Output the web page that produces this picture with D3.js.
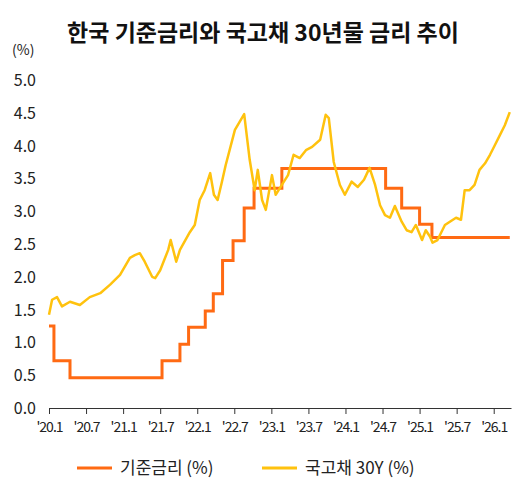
<!DOCTYPE html>
<html><head><meta charset="utf-8">
<script src="https://cdn.jsdelivr.net/npm/d3@7"></script>
<style>body{margin:0;background:#fff}</style></head>
<body><svg id="c" width="517" height="493"></svg>
<script>
// months since 2020.1
const tickMonths = [0, 6, 12, 18, 24, 30, 36, 42, 48, 54, 60, 66, 72];
const tickLabels = ["'20.1","'20.7","'21.1","'21.7","'22.1","'22.7","'23.1","'23.7","'24.1","'24.7","'25.1","'25.7","'26.1"];
const yTicks = [0, 0.5, 1, 1.5, 2, 2.5, 3, 3.5, 4, 4.5, 5];

// base rate: step start month & value
const baseMonths = [0, 0.8, 3.4, 18.3, 21.2, 22.6, 25.3, 26.6, 28.1, 29.8, 31.6, 33.2, 37.7, 54.5, 57.1, 60.0, 62.0, 74.6];
const baseValues = [1.25, 0.72, 0.46, 0.72, 0.97, 1.23, 1.48, 1.74, 2.25, 2.55, 3.05, 3.35, 3.65, 3.35, 3.05, 2.8, 2.6, 2.6];

// 30Y KTB
const ktbMonths = [0,0.5,1.3,2.1,3.4,5.0,6.6,8.3,9.9,11.5,13.1,13.9,14.7,15.5,16.7,17.2,18.0,19.3,19.7,20.6,21.2,22.8,23.6,24.4,25.2,26.1,26.7,27.3,28.0,28.6,30.1,31.6,32.5,33.3,33.8,34.5,35.1,36.1,36.7,37.7,38.7,39.6,40.6,41.6,42.6,43.9,44.8,45.3,46.1,47.1,47.9,49.0,50.0,51.0,51.9,52.8,53.6,54.4,55.2,56.0,57.1,57.9,58.7,59.4,60.4,61.0,61.7,62.1,62.9,64.1,64.9,65.9,66.7,67.3,68.1,68.9,69.7,70.6,71.4,72.2,73.0,73.8,74.6];
const ktbValues = [1.42,1.65,1.69,1.55,1.62,1.57,1.69,1.75,1.88,2.03,2.29,2.33,2.36,2.23,2.0,1.98,2.10,2.41,2.56,2.23,2.41,2.68,2.79,3.17,3.32,3.58,3.25,3.17,3.45,3.70,4.24,4.48,3.78,3.32,3.63,3.17,3.02,3.55,3.25,3.40,3.55,3.86,3.81,3.93,3.98,4.09,4.47,4.42,3.75,3.40,3.25,3.45,3.37,3.48,3.66,3.40,3.09,2.94,2.90,3.08,2.84,2.71,2.68,2.79,2.56,2.71,2.61,2.52,2.56,2.79,2.84,2.90,2.87,3.32,3.32,3.40,3.63,3.73,3.86,4.01,4.16,4.31,4.51];

const ORANGE = '#ff6a13', YELLOW = '#ffc20e', FONT = "'Noto Sans CJK KR', sans-serif";
const svg = d3.select('#c');
const x = d3.scaleLinear().domain([0, 74.8]).range([49, 511]);
const y = d3.scaleLinear().domain([0, 5]).range([408, 80]);

svg.append('text').attr('x', 263).attr('y', 41).attr('text-anchor', 'middle')
  .style('font-family', FONT).style('font-size', '23px').style('font-weight', '700').style('fill', '#111')
  .text('한국 기준금리와 국고채 30년물 금리 추이');
svg.append('text').attr('x', 12).attr('y', 55)
  .style('font-family', FONT).style('font-size', '14px').style('fill', '#222').text('(%)');

svg.append('g').selectAll('text').data(yTicks).join('text')
  .attr('x', 36).attr('y', d => y(d) + 6).attr('text-anchor', 'end')
  .style('font-family', FONT).style('font-size', '16px').style('fill', '#222')
  .text(d => d.toFixed(1));

const xAxis = svg.append('g').attr('transform', 'translate(0,408)')
  .call(d3.axisBottom(x).tickValues(tickMonths).tickSize(6).tickSizeOuter(0).tickFormat((d, i) => tickLabels[i]));
xAxis.select('.domain').attr('stroke', '#333').attr('stroke-width', 1.2);
xAxis.selectAll('.tick line').attr('stroke', '#333');
xAxis.selectAll('text').attr('dy', '1.05em')
  .style('font-family', FONT).style('font-size', '14px').style('fill', '#222').style('letter-spacing', '-1px');

const base = baseMonths.map((m, i) => [m, baseValues[i]]);
svg.append('path').datum(base)
  .attr('d', d3.line().x(d => x(d[0])).y(d => y(d[1])).curve(d3.curveStepAfter))
  .attr('fill', 'none').attr('stroke', ORANGE).attr('stroke-width', 3);

const ktb = ktbMonths.map((m, i) => [m, ktbValues[i]]);
svg.append('path').datum(ktb)
  .attr('d', d3.line().x(d => x(d[0])).y(d => y(d[1])))
  .attr('fill', 'none').attr('stroke', YELLOW).attr('stroke-width', 2.5).attr('stroke-linejoin', 'round');

const legend = [['기준금리 (%)', ORANGE, 77], ['국고채 30Y (%)', YELLOW, 262]];
legend.forEach(([t, c, lx]) => {
  svg.append('line').attr('x1', lx).attr('x2', lx + 35).attr('y1', 468).attr('y2', 468)
    .attr('stroke', c).attr('stroke-width', 3);
  svg.append('text').attr('x', lx + 43).attr('y', 474)
    .style('font-family', FONT).style('font-size', '17px').style('fill', '#222').text(t);
});
</script></body></html>
